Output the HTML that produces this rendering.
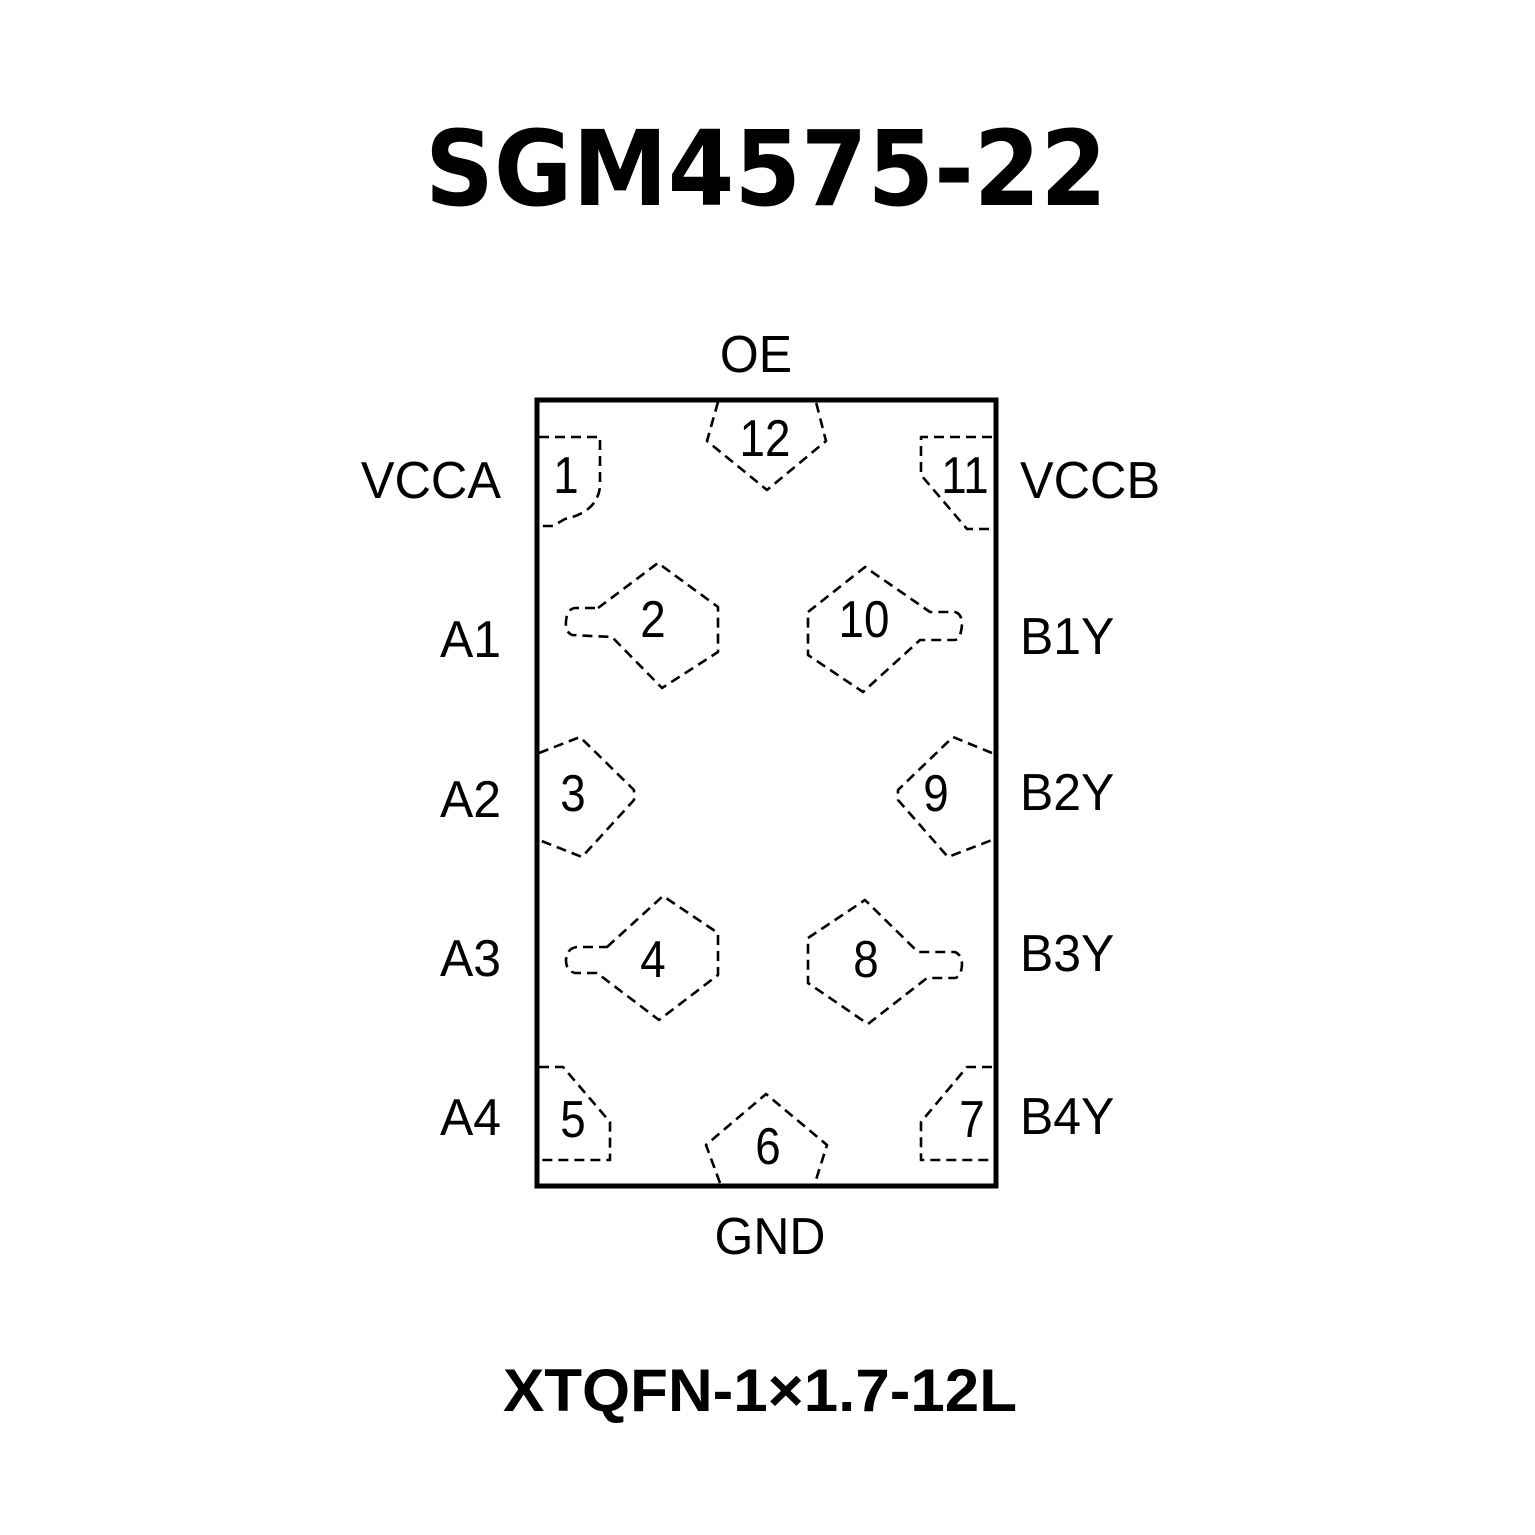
<!DOCTYPE html>
<html><head><meta charset="utf-8"><style>html,body{margin:0;padding:0;background:#fff}svg{display:block}</style></head>
<body>
<svg width="1535" height="1535" viewBox="0 0 1535 1535" xmlns="http://www.w3.org/2000/svg">
<rect width="1535" height="1535" fill="#fff"/>
<text x="766" y="205" font-family="DejaVu Sans, Liberation Sans, sans-serif" font-weight="bold" font-size="104" text-anchor="middle" textLength="682" lengthAdjust="spacingAndGlyphs">SGM4575-22</text>
<rect x="537" y="400" width="459" height="786" fill="none" stroke="#000" stroke-width="5"/>
<g fill="none" stroke="#000" stroke-width="2.6" stroke-dasharray="10,6" stroke-linejoin="round">
<path d="M718,402 L707,441 L767,490 L826,441 L816,402"/>
<path d="M539,437 L600,437 L600,487 Q597,512 565,519 L553,526 L539,526"/>
<path d="M992,437 L921,437 L921,475 L967,529 L992,529"/>
<path d="M598,608 L658,563 L718,607 L718,652 L662,688 L612,637 L572,635 Q565,632 566,621 Q567,609 575,608 Z"/>
<path d="M808,612 L865,567 L930,612 L955,612 Q962,614 962,624 Q961,639 955,640 L920,640 L863,692 L808,655 Z"/>
<path d="M539,753 L580,737 L634,790 L634,800 L582,857 L539,840"/>
<path d="M992,753 L953,737 L898,790 L898,800 L948,857 L992,840"/>
<path d="M607,947 L663,896 L718,933 L718,975 L659,1020 L597,973 L575,973 Q566,971 566,960 Q567,948 577,947 Z"/>
<path d="M808,938 L865,900 L918,952 L955,952 Q962,955 962,965 Q961,977 955,978 L927,978 L868,1024 L808,983 Z"/>
<path d="M539,1067 L563,1067 L610,1122 L610,1160 L539,1160"/>
<path d="M992,1067 L967,1067 L921,1122 L921,1160 L992,1160"/>
<path d="M720,1183 L706,1145 L766,1094 L827,1145 L815,1183"/>
</g>
<g font-family="Liberation Sans, sans-serif" font-size="52" fill="#000">
<text transform="translate(756,372) scale(0.96,1)" text-anchor="middle">OE</text>
<text transform="translate(770,1254) scale(0.96,1)" text-anchor="middle">GND</text>
<g text-anchor="end">
<text transform="translate(501,498) scale(0.97,1)">VCCA</text>
<text transform="translate(501,657) scale(0.96,1)">A1</text>
<text transform="translate(501,817) scale(0.96,1)">A2</text>
<text transform="translate(501,976) scale(0.96,1)">A3</text>
<text transform="translate(501,1135) scale(0.96,1)">A4</text>
</g>
<text transform="translate(1020,498) scale(0.97,1)">VCCB</text>
<text transform="translate(1020,654) scale(0.96,1)">B1Y</text>
<text transform="translate(1020,810) scale(0.96,1)">B2Y</text>
<text transform="translate(1020,971) scale(0.96,1)">B3Y</text>
<text transform="translate(1020,1134) scale(0.96,1)">B4Y</text>
</g>
<g font-family="Liberation Sans, sans-serif" font-size="52" fill="#000" text-anchor="middle">
<text transform="translate(765,456) scale(0.88,1)">12</text>
<text transform="translate(566,493) scale(0.88,1)">1</text>
<text transform="translate(965,493) scale(0.88,1)">11</text>
<text transform="translate(653,637) scale(0.88,1)">2</text>
<text transform="translate(864,637) scale(0.88,1)">10</text>
<text transform="translate(573,811) scale(0.88,1)">3</text>
<text transform="translate(936,811) scale(0.88,1)">9</text>
<text transform="translate(653,977) scale(0.88,1)">4</text>
<text transform="translate(866,977) scale(0.88,1)">8</text>
<text transform="translate(573,1137) scale(0.88,1)">5</text>
<text transform="translate(972,1137) scale(0.88,1)">7</text>
<text transform="translate(768,1164) scale(0.88,1)">6</text>
</g>
<text x="760" y="1411" font-family="Liberation Sans, sans-serif" font-weight="bold" font-size="60" text-anchor="middle" textLength="514" lengthAdjust="spacingAndGlyphs">XTQFN-1×1.7-12L</text>
</svg>
</body></html>
